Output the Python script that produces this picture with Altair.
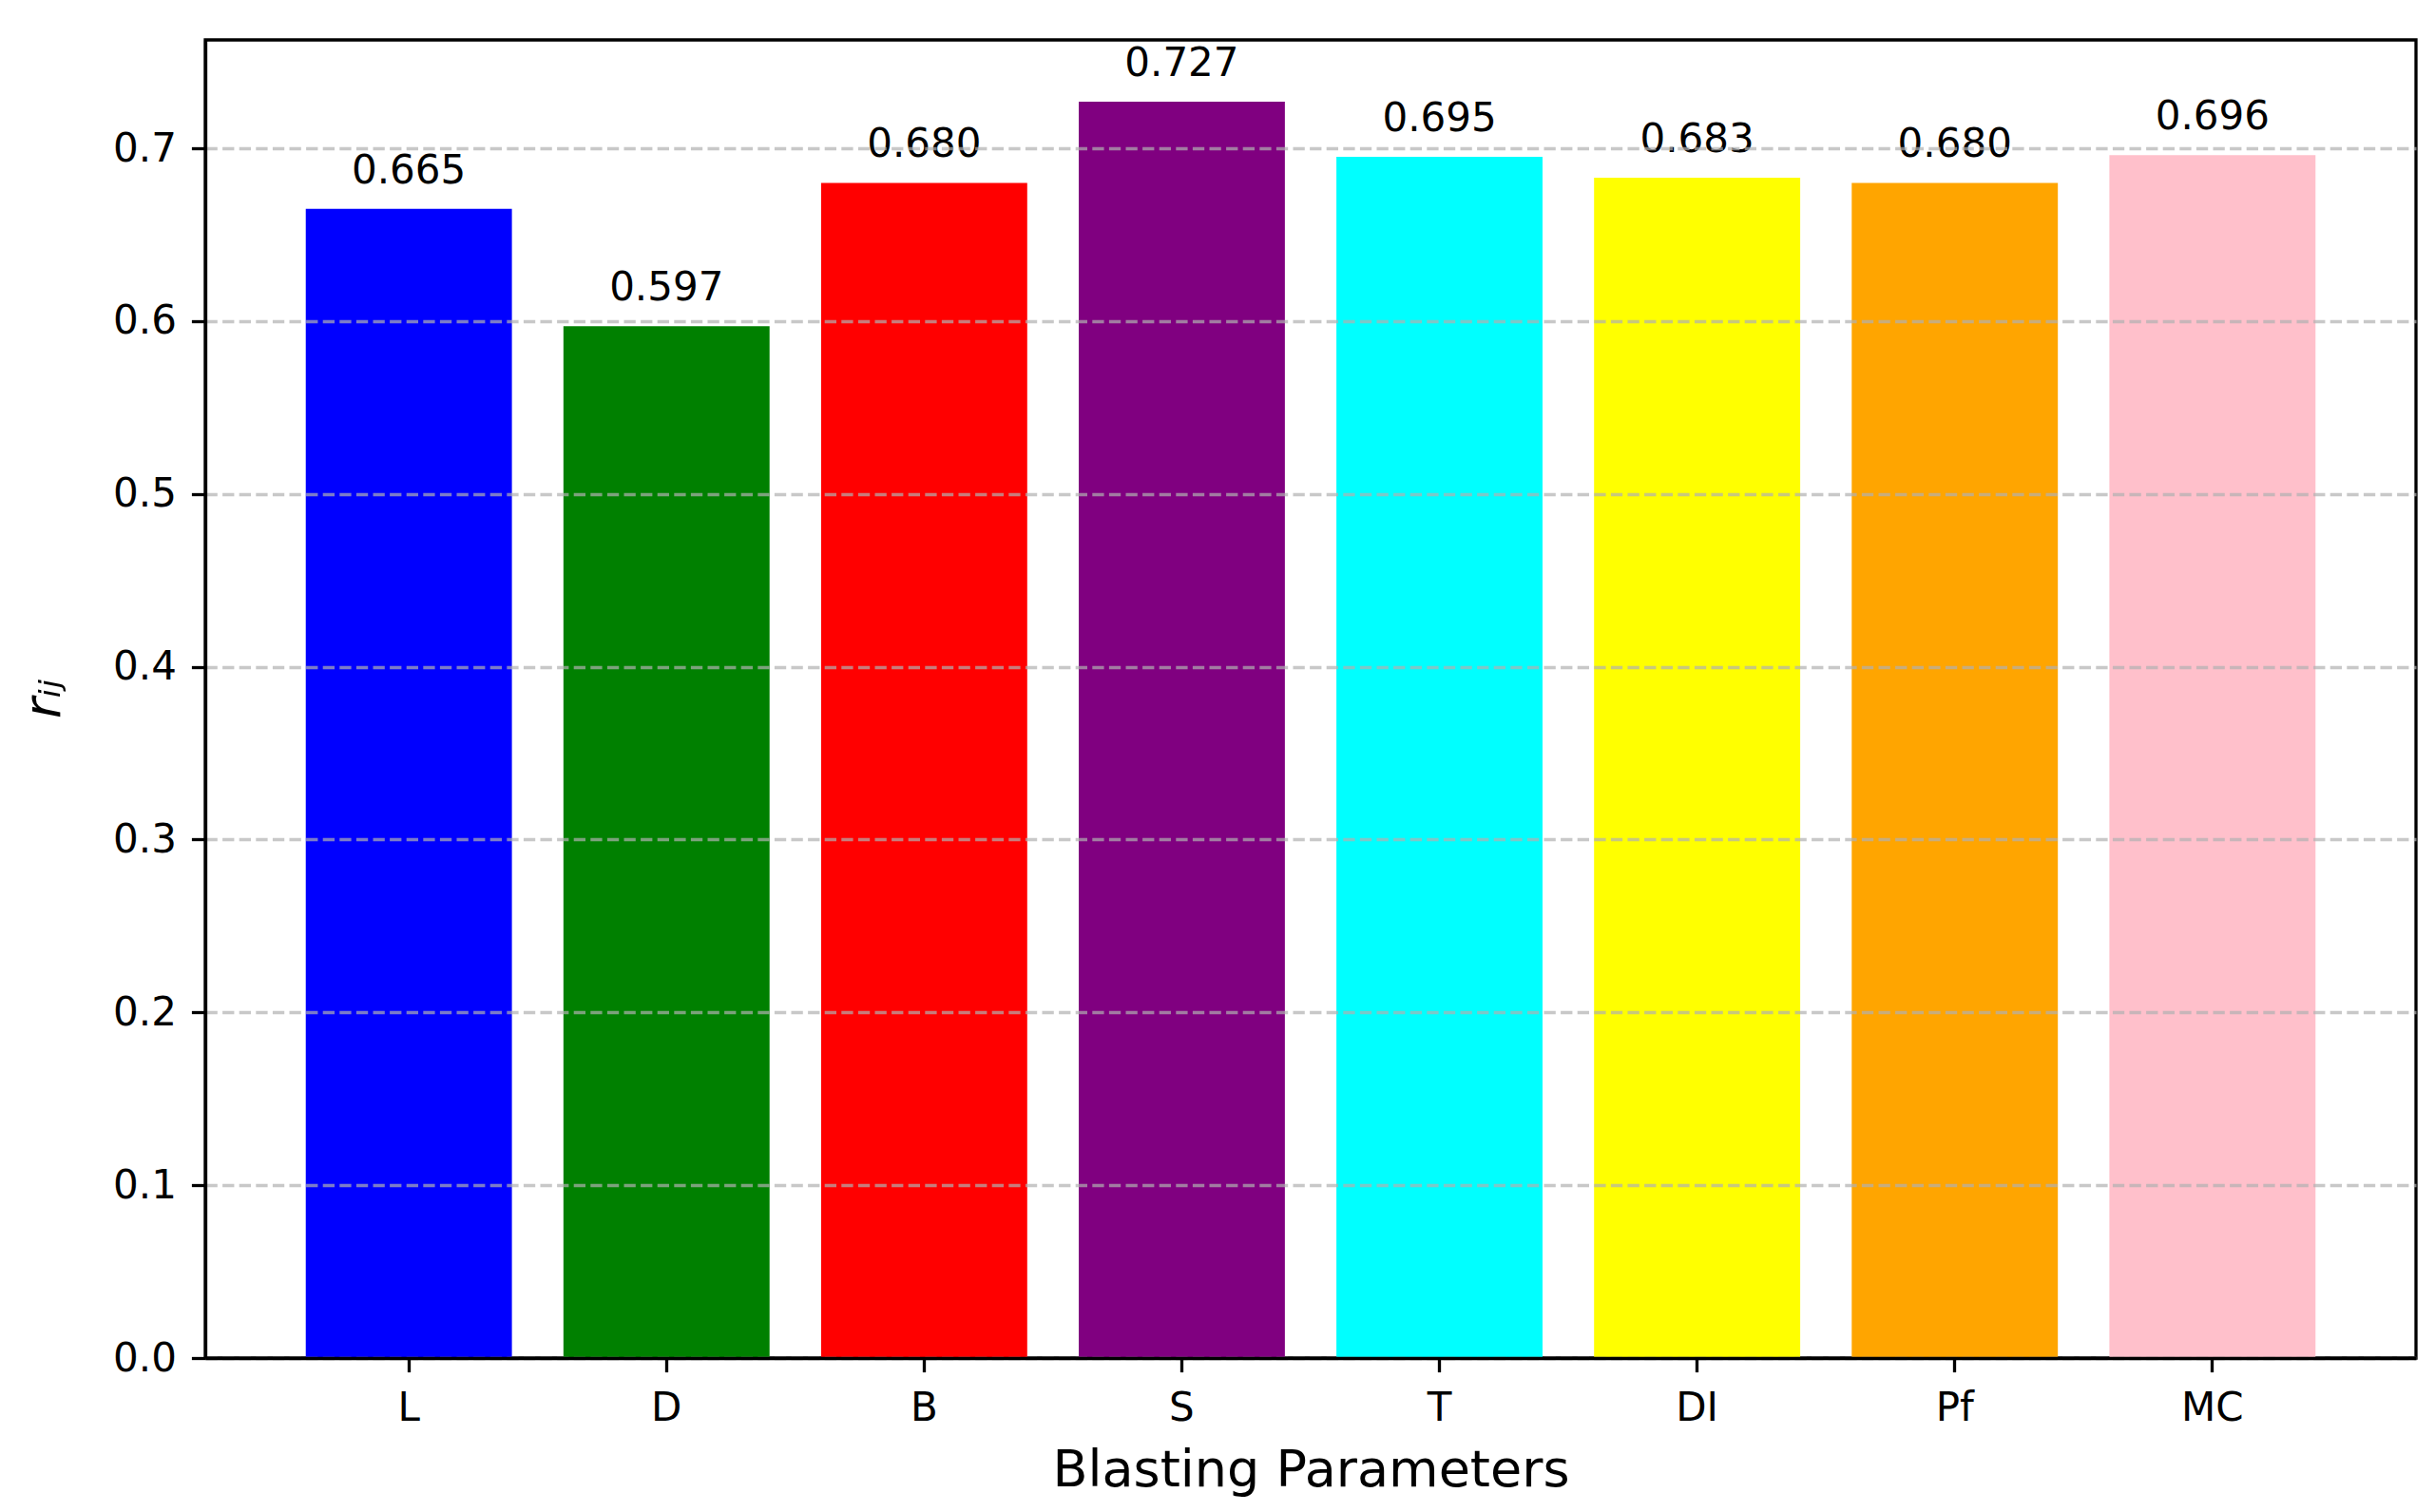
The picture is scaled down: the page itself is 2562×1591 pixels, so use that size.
import altair as alt
import pandas as pd

params = ["L", "D", "B", "S", "T", "DI", "Pf", "MC"]
values = [0.665, 0.597, 0.680, 0.727, 0.695, 0.683, 0.680, 0.696]
colors = ["#0000ff", "#008000", "#ff0000", "#800080", "#00ffff", "#ffff00", "#ffa500", "#ffc0cb"]
y_ticks = [0.0, 0.1, 0.2, 0.3, 0.4, 0.5, 0.6, 0.7]

df = pd.DataFrame({"param": params, "value": values})

FONT = "DejaVu Sans"
W, H = 2326, 1387

x_enc = alt.X(
    "param:N",
    sort=params,
    scale=alt.Scale(paddingInner=0.2, paddingOuter=0.39),
    axis=alt.Axis(
        title="Blasting Parameters",
        labelAngle=0,
        labelFont=FONT,
        labelFontSize=42,
        labelColor="black",
        labelPadding=18,
        tickSize=14.6,
        tickWidth=3.3,
        tickColor="black",
        domain=True,
        domainColor="black",
        domainWidth=3.3,
        grid=False,
        titleFont=FONT,
        titleFontSize=54,
        titleFontWeight="normal",
        titleColor="black",
        titleBaseline="alphabetic",
        titleAnchor="middle",
        titleY=134,
        zindex=1,
    ),
)

y_enc = alt.Y(
    "value:Q",
    scale=alt.Scale(domain=[0, 0.7627], nice=False, zero=True),
    axis=alt.Axis(
        title="rᵢⱼ",
        values=y_ticks,
        format=".1f",
        labelFont=FONT,
        labelFontSize=42,
        labelColor="black",
        labelPadding=16,
        tickSize=14.6,
        tickWidth=3.3,
        tickColor="black",
        domain=True,
        domainColor="black",
        domainWidth=3.3,
        grid=True,
        gridColor="#b0b0b0",
        gridOpacity=0.7,
        gridWidth=3.3,
        gridDash=[12.3, 5.3],
        titleFont=FONT,
        titleFontSize=54,
        titleFontStyle="italic",
        titleFontWeight="normal",
        titleColor="black",
        titleAngle=270,
        titleBaseline="alphabetic",
        titleAlign="center",
        titleX=-154,
        titleY=693,
        zindex=1,
    ),
)

bars = alt.Chart(df).mark_bar().encode(
    x=x_enc,
    y=y_enc,
    color=alt.Color("param:N", scale=alt.Scale(domain=params, range=colors), legend=None),
)

labels = alt.Chart(df).mark_text(
    font=FONT, fontSize=42, color="black", baseline="alphabetic", align="center", dy=-27
).encode(
    x=alt.X("param:N", sort=params),
    y=alt.Y("value:Q"),
    text=alt.Text("value:Q", format=".3f"),
)

chart = (
    alt.layer(bars, labels)
    .properties(
        width=W,
        height=H,
        background="white",
        autosize=alt.AutoSizeParams(type="none"),
        padding={"left": 208, "top": 34, "right": 12, "bottom": 146},
    )
    .configure_view(stroke="black", strokeWidth=3.3)
)

chart.save("out.html", embed_options={"renderer": "svg", "actions": False})
